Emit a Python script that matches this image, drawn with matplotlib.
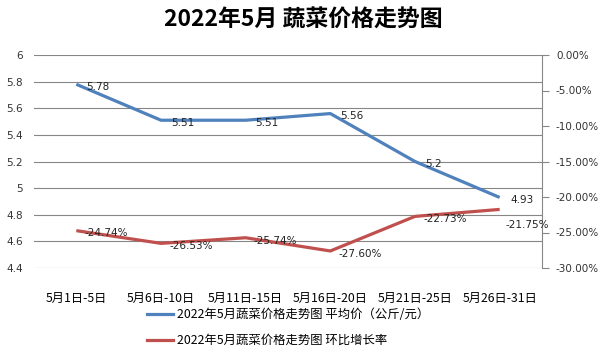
import matplotlib
matplotlib.use("Agg")
import matplotlib.pyplot as plt
from matplotlib.ticker import FuncFormatter, MultipleLocator
from matplotlib.lines import Line2D

plt.rcParams['font.family'] = ['Noto Sans CJK SC', 'DejaVu Sans']
NUM_FONT = ['DejaVu Sans']

categories = ["5月1日-5日", "5月6日-10日", "5月11日-15日", "5月16日-20日", "5月21日-25日", "5月26日-31日"]
avg_price = [5.78, 5.51, 5.51, 5.56, 5.2, 4.93]
mom_growth = [-24.74, -26.53, -25.74, -27.60, -22.73, -21.75]
price_labels = ["5.78", "5.51", "5.51", "5.56", "5.2", "4.93"]
growth_labels = ["-24.74%", "-26.53%", "-25.74%", "-27.60%", "-22.73%", "-21.75%"]
title = "2022年5月 蔬菜价格走势图"
legend_labels = ["2022年5月蔬菜价格走势图 平均价（公斤/元）", "2022年5月蔬菜价格走势图 环比增长率"]

blue = "#4F81BD"
red = "#C0504D"
grid_c = "#868686"

fig = plt.figure(figsize=(6.06, 3.57), dpi=100)
ax = fig.add_axes([34/606, 1-268/357, (542-34)/606, (268-55)/357])
ax2 = ax.twinx()

x = list(range(len(categories)))
ax.plot(x, avg_price, color=blue, lw=2.3, solid_capstyle='butt')
ax2.plot(x, mom_growth, color=red, lw=2.3, solid_capstyle='butt')

ax.set_xlim(-0.5, len(categories) - 0.5)
ax.set_ylim(4.4, 6.0)
ax.yaxis.set_major_locator(MultipleLocator(0.2))
ax.yaxis.set_major_formatter(FuncFormatter(lambda v, p: f"{v:g}"))
ax.grid(axis='y', color=grid_c, lw=0.8)
ax.set_axisbelow(True)
ax.set_xticks(x)
ax.set_xticklabels(categories, fontsize=8.8)
ax.tick_params(axis='x', length=0, pad=17)
ax.tick_params(axis='y', length=0, pad=8, labelsize=7.5, labelcolor='#333333')
for lbl in ax.get_yticklabels():
    lbl.set_family(NUM_FONT)
for s in ['left', 'top', 'bottom', 'right']:
    ax.spines[s].set_visible(False)

ax2.set_ylim(-30, 0)
ax2.yaxis.set_major_locator(MultipleLocator(5))
ax2.yaxis.set_major_formatter(FuncFormatter(lambda v, p: f"{v:.2f}%"))
ax2.tick_params(axis='y', length=5, width=0.8, color=grid_c, pad=5, labelsize=7.5, labelcolor='#333333')
for lbl in ax2.get_yticklabels():
    lbl.set_family(NUM_FONT)
for s in ['left', 'top', 'bottom']:
    ax2.spines[s].set_visible(False)
ax2.spines['right'].set_color(grid_c)
ax2.spines['right'].set_linewidth(0.8)

for i, (v, t) in enumerate(zip(avg_price, price_labels)):
    off = (7, -2) if i < len(x) - 1 else (8, -2)
    ax.annotate(t, (i, v), xytext=off, textcoords='offset points', ha='left', va='center',
                fontsize=7.5, color='#222222', family=NUM_FONT)
for i, (v, t) in enumerate(zip(mom_growth, growth_labels)):
    off = (6, -2) if i < len(x) - 1 else (4, -11)
    ax2.annotate(t, (i, v), xytext=off, textcoords='offset points', ha='left', va='center',
                 fontsize=7.5, color='#222222', family=NUM_FONT)

fig.text(0.5, 1-20/357, title, ha='center', va='center', fontsize=16.5, fontweight='bold')

handles = [Line2D([], [], color=blue, lw=2.3), Line2D([], [], color=red, lw=2.3)]
fig.legend(handles, legend_labels, loc='upper left', bbox_to_anchor=(147/606, 1-308/357),
           frameon=False, fontsize=8.9, handlelength=2.1, handletextpad=0.3,
           labelspacing=1.05, borderpad=0, borderaxespad=0)

fig.savefig("out.png", dpi=100)
